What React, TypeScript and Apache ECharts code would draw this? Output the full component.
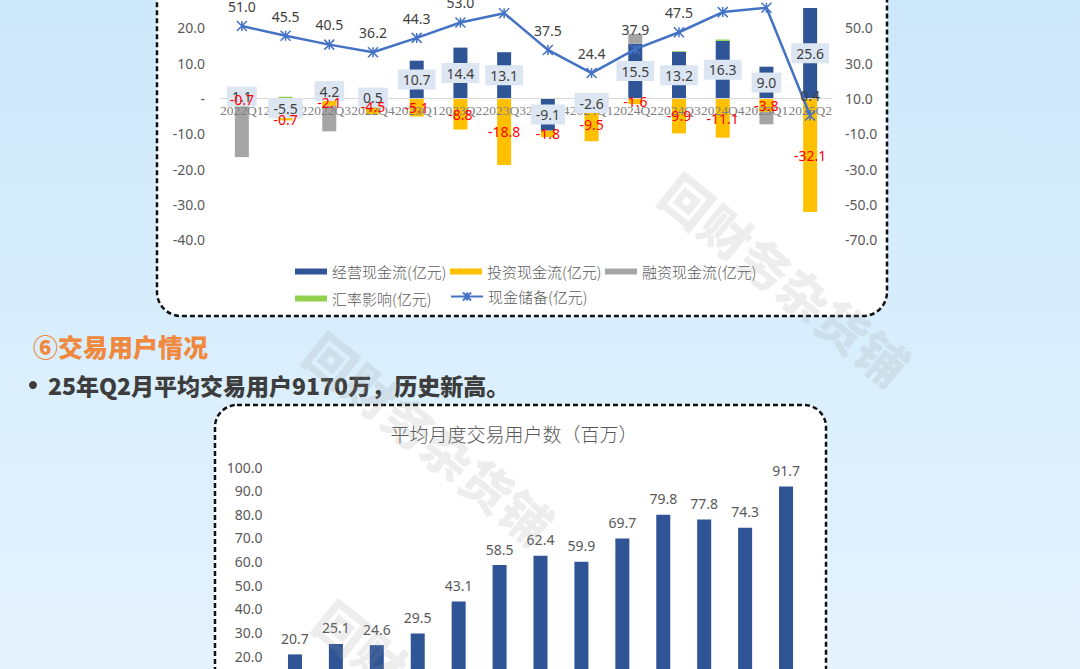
import React, { useEffect, useRef } from "react";
import * as echarts from "echarts";

const quarters = ["2022Q1", "2022Q2", "2022Q3", "2022Q4", "2023Q1", "2023Q2", "2023Q3", "2023Q4", "2024Q1", "2024Q2", "2024Q3", "2024Q4", "2025Q1", "2025Q2"];
const operatingCF = [1.1, -5.5, 4.2, 0.5, 10.7, 14.4, 13.1, -9.1, -2.6, 15.5, 13.2, 16.3, 9.0, 25.6];
const investingCF = [-0.7, -0.7, -2.1, -4.5, -5.1, -8.8, -18.8, -1.8, -9.5, -1.6, -9.9, -11.1, -3.8, -32.1];
const financingCF = [-15.9, 0, -7.2, 0, 0, 0, 0, 0, 0, 2.8, 0, 0, -3.5, 0];
const fxImpact = [0, 0.5, 0, 0, 0, 0, 0, 0, 0, 0, 0.2, 0.4, 0, 0];
const cashReserve = [51.0, 45.5, 40.5, 36.2, 44.3, 53.0, 58.3, 37.5, 24.4, 37.9, 47.5, 58.9, 61.4, 0.4];

const userQuarters = ["2022Q2", "2022Q3", "2022Q4", "2023Q1", "2023Q2", "2023Q3", "2023Q4", "2024Q1", "2024Q2", "2024Q3", "2024Q4", "2025Q1", "2025Q2"];
const monthlyUsers = [20.7, 25.1, 24.6, 29.5, 43.1, 58.5, 62.4, 59.9, 69.7, 79.8, 77.8, 74.3, 91.7];

const seriesNames = ["经营现金流(亿元)", "投资现金流(亿元)", "融资现金流(亿元)", "汇率影响(亿元)", "现金储备(亿元)"];
const headingText = "⑥交易用户情况";
const bulletText = "25年Q2月平均交易用户9170万，历史新高。";
const chart2Title = "平均月度交易用户数（百万）";
const watermark = "回财务杂货铺";

const OFF = 40;
const CJK = "'Noto Sans CJK SC', sans-serif";
const NUM = "'Noto Sans', sans-serif";
const STAR = "path://M0,0L10,10M10,0L0,10M5,0L5,10";

const TOP_GRID_TOP = -7.5;
const TOP_GRID_H = 247.3;
const ZERO_Y = 98.5;

export default function App() {
  const ref = useRef<HTMLDivElement>(null);
  useEffect(() => {
    if (!ref.current) return;
    const chart = echarts.init(ref.current, null, { renderer: "svg" });
    const fmt1 = (v: number) => v.toFixed(1);
    const legendBase = {
      padding: 0,
      itemWidth: 32,
      itemHeight: 6,
      textStyle: { fontFamily: CJK, fontSize: 15, color: "#595959", fontWeight: 300 as any },
    };
    const wm = (cx: number, cy: number) => ({
      type: "text",
      x: cx,
      y: cy + OFF,
      rotation: -0.68,
      z: 100,
      style: {
        text: watermark,
        align: "center",
        verticalAlign: "middle",
        fontFamily: CJK,
        fontWeight: 900,
        fontSize: 50,
        fill: "rgba(150,150,150,0.17)",
      },
    });
    const stackBar = (name: string, data: number[], color: string) => ({
      name,
      type: "bar",
      stack: "cf",
      xAxisIndex: 0,
      yAxisIndex: 0,
      barWidth: 14,
      barGap: "-100%",
      data,
      itemStyle: { color },
      z: 1,
    });
    const labelBar = (data: number[], label: any) => ({
      name: "label-layer",
      type: "bar",
      stack: "cflabel",
      xAxisIndex: 0,
      yAxisIndex: 0,
      barWidth: 14,
      barGap: "-100%",
      data,
      silent: true,
      itemStyle: { color: "rgba(0,0,0,0)" },
      label: { show: true, position: "inside", formatter: (p: any) => fmt1(p.value), fontFamily: NUM, fontSize: 14, ...label },
      z: 3,
    });
    chart.setOption({
      animation: false,
      graphic: [
        {
          type: "rect",
          z: -10,
          shape: { x: 157, y: 5, width: 730, height: 316 + OFF - 5, r: 24 },
          style: { fill: "#ffffff", stroke: "#111", lineWidth: 2.5, lineDash: [5, 3] },
        },
        {
          type: "rect",
          z: -10,
          shape: { x: 215, y: 405 + OFF, width: 611, height: 420, r: 22 },
          style: { fill: "#ffffff", stroke: "#111", lineWidth: 2.5, lineDash: [5, 3] },
        },
        {
          type: "text",
          x: 33,
          y: 346 + OFF,
          style: { text: headingText, fontFamily: CJK, fontWeight: 900, fontSize: 25, fill: "#f0883e", verticalAlign: "middle" },
        },
        { type: "circle", shape: { cx: 33, cy: 385 + OFF, r: 4 }, style: { fill: "#3d3d3d" } },
        {
          type: "text",
          x: 48,
          y: 385 + OFF,
          style: { text: bulletText, fontFamily: CJK, fontWeight: 900, fontSize: 23, fill: "#3d3d3d", verticalAlign: "middle" },
        },
        {
          type: "text",
          x: 514,
          y: 433 + OFF,
          style: { text: chart2Title, fontFamily: CJK, fontWeight: 300, fontSize: 19, fill: "#595959", align: "center", verticalAlign: "middle" },
        },
        wm(786, 278),
        wm(430, 437),
        wm(440, 705),
      ],
      legend: [
        { ...legendBase, data: [{ name: seriesNames[0], icon: "rect" }], left: 295, top: 304 },
        { ...legendBase, data: [{ name: seriesNames[1], icon: "rect" }], left: 450, top: 304 },
        { ...legendBase, data: [{ name: seriesNames[2], icon: "rect" }], left: 605, top: 304 },
        { ...legendBase, data: [{ name: seriesNames[3], icon: "rect" }], left: 295, top: 331 },
        { ...legendBase, itemHeight: 10, data: [{ name: seriesNames[4] }], left: 450, top: 329 },
      ],
      grid: [
        { left: 220, width: 612, top: TOP_GRID_TOP + OFF, height: TOP_GRID_H },
        { left: 274.5, width: 532, top: 467 + OFF, height: 236.3 },
      ],
      xAxis: [
        {
          type: "category",
          gridIndex: 0,
          data: quarters,
          z: 2,
          offset: -(TOP_GRID_TOP + TOP_GRID_H - ZERO_Y),
          axisLine: { show: true, onZero: false, lineStyle: { color: "#d9d9d9", width: 1 } },
          axisTick: { show: false },
          axisLabel: { interval: 0, margin: 5, fontFamily: "'Liberation Serif', serif", fontSize: 13.5, color: "#808080" },
        },
        {
          type: "category",
          gridIndex: 1,
          data: userQuarters,
          axisLine: { lineStyle: { color: "#d9d9d9" } },
          axisTick: { show: false },
          axisLabel: { interval: 0, fontFamily: NUM, fontSize: 13, color: "#595959" },
        },
      ],
      yAxis: [
        {
          type: "value",
          gridIndex: 0,
          min: -40,
          max: 30,
          interval: 10,
          splitLine: { show: false },
          axisLine: { show: false },
          axisTick: { show: false },
          axisLabel: { margin: 15, fontFamily: NUM, fontSize: 14, color: "#595959", formatter: (v: number) => (v === 0 ? "-" : fmt1(v)) },
        },
        {
          type: "value",
          gridIndex: 0,
          position: "right",
          min: -70,
          max: 70,
          interval: 20,
          splitLine: { show: false },
          axisLine: { show: false },
          axisTick: { show: false },
          axisLabel: { margin: 13, fontFamily: NUM, fontSize: 14, color: "#595959", formatter: (v: number) => fmt1(v) },
        },
        {
          type: "value",
          gridIndex: 1,
          min: 0,
          max: 100,
          interval: 10,
          splitLine: { show: false },
          axisLine: { show: false },
          axisTick: { show: false },
          axisLabel: { margin: 12, fontFamily: NUM, fontSize: 14, color: "#595959", formatter: (v: number) => fmt1(v) },
        },
      ],
      series: [
        stackBar(seriesNames[0], operatingCF, "#2f5597"),
        stackBar(seriesNames[1], investingCF, "#ffc000"),
        stackBar(seriesNames[2], financingCF, "#a5a5a5"),
        stackBar(seriesNames[3], fxImpact, "#92d050"),
        labelBar(operatingCF, { backgroundColor: "#dce6f2", padding: [3, 5], color: "#404040" }),
        labelBar(investingCF, { color: "#ff0000" }),
        {
          name: seriesNames[4],
          type: "line",
          xAxisIndex: 0,
          yAxisIndex: 1,
          data: cashReserve,
          symbol: STAR,
          symbolSize: 10,
          lineStyle: { color: "#4472c4", width: 2.5 },
          itemStyle: { color: "#4472c4", borderColor: "#4472c4", borderWidth: 1.5 },
          label: {
            show: true,
            position: "top",
            distance: 7,
            formatter: (p: any) => fmt1(p.value),
            fontFamily: NUM,
            fontSize: 14,
            color: "#404040",
          },
          z: 5,
        },
        {
          name: "平均月度交易用户数",
          type: "bar",
          xAxisIndex: 1,
          yAxisIndex: 2,
          barWidth: 14,
          data: monthlyUsers,
          itemStyle: { color: "#2f5597" },
          label: {
            show: true,
            position: "top",
            distance: 9,
            formatter: (p: any) => fmt1(p.value),
            fontFamily: NUM,
            fontSize: 14,
            color: "#595959",
          },
        },
      ],
    });
    return () => chart.dispose();
  }, []);

  return (
    <div
      style={{
        position: "fixed",
        left: 0,
        top: 0,
        width: 1080,
        height: 669,
        overflow: "hidden",
        background: "linear-gradient(180deg, #cde8fa 0%, #d9eefc 50%, #e4f2fd 100%)",
      }}
    >
      <div ref={ref} style={{ position: "absolute", left: 0, top: -OFF, width: 1080, height: 800 }} />
    </div>
  );
}
